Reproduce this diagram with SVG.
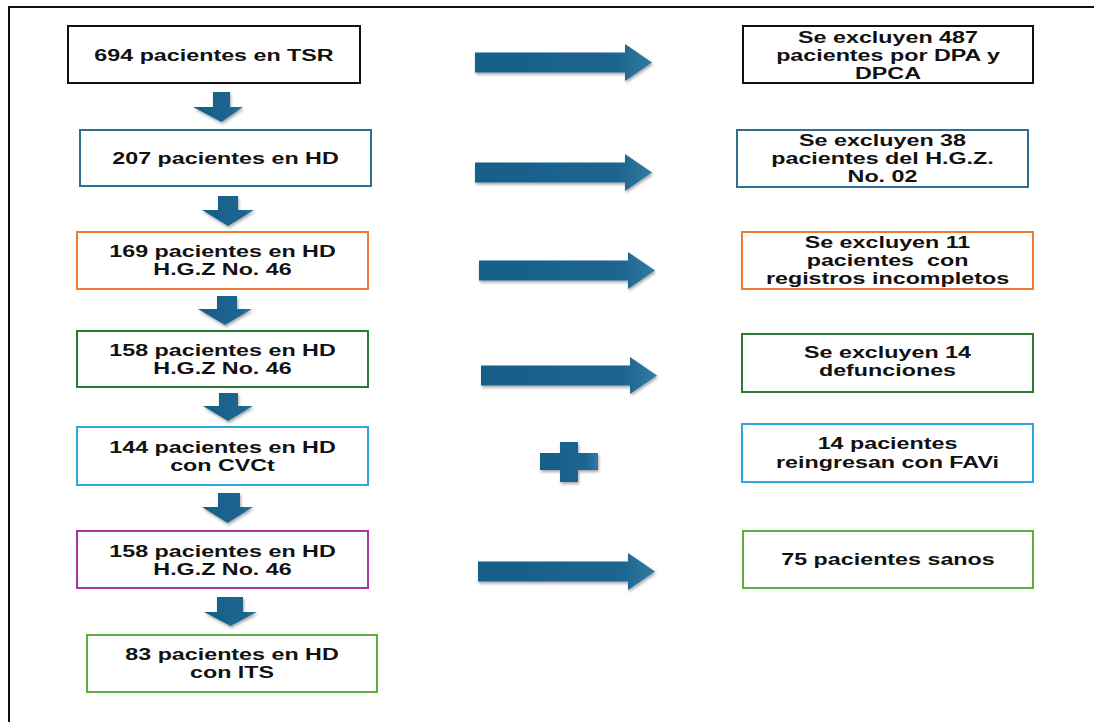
<svg xmlns="http://www.w3.org/2000/svg" width="1094" height="722" viewBox="0 0 1094 722">
<style>
.box{fill:#fff;stroke-width:2}
.t{font-family:"Liberation Sans",Arial,sans-serif;font-weight:bold;font-size:17px;fill:#111;text-anchor:middle}
.arr{fill:url(#ag);filter:url(#sh)}
</style>
<defs>
<linearGradient id="ag" x1="0" y1="0" x2="1" y2="0">
<stop offset="0" stop-color="#185f88"/>
<stop offset="0.8" stop-color="#1b6590"/>
<stop offset="1" stop-color="#347aa0"/>
</linearGradient>
<filter id="sh" x="-20%" y="-30%" width="140%" height="170%">
<feDropShadow dx="1" dy="2" stdDeviation="1.5" flood-color="#000" flood-opacity="0.35"/>
</filter>
</defs>
<rect width="1094" height="722" fill="#fff"/>
<path d="M9 722 V7 H1094" fill="none" stroke="#111" stroke-width="2"/>

<g id="n1"><rect class="box" x="68" y="26" width="292" height="57" stroke="#111"/>
<text class="t" transform="translate(214,61) scale(1.37,1)">694 pacientes en TSR</text></g>
<g id="n2"><rect class="box" x="80" y="130" width="291" height="56" stroke="#2f6d92"/>
<text class="t" transform="translate(225.5,164) scale(1.37,1)">207 pacientes en HD</text></g>
<g id="n3"><rect class="box" x="77" y="232" width="291" height="57" stroke="#ed7d31"/>
<text class="t" transform="translate(222.5,257) scale(1.37,1)"><tspan x="0" y="0">169 pacientes en HD</tspan><tspan x="0" y="18">H.G.Z No. 46</tspan></text></g>
<g id="n4"><rect class="box" x="77" y="331" width="291" height="56" stroke="#2e7a32"/>
<text class="t" transform="translate(222.5,356) scale(1.37,1)"><tspan x="0" y="0">158 pacientes en HD</tspan><tspan x="0" y="18">H.G.Z No. 46</tspan></text></g>
<g id="n5"><rect class="box" x="77" y="427" width="291" height="58" stroke="#2ea7dc"/>
<text class="t" transform="translate(222.5,453) scale(1.37,1)"><tspan x="0" y="0">144 pacientes en HD</tspan><tspan x="0" y="18">con CVCt</tspan></text></g>
<g id="n6"><rect class="box" x="77" y="531" width="291" height="57" stroke="#a8379f"/>
<text class="t" transform="translate(222.5,557) scale(1.37,1)"><tspan x="0" y="0">158 pacientes en HD</tspan><tspan x="0" y="18">H.G.Z No. 46</tspan></text></g>
<g id="n7"><rect class="box" x="87" y="635" width="290" height="57" stroke="#5bae3f"/>
<text class="t" transform="translate(232,660) scale(1.37,1)"><tspan x="0" y="0">83 pacientes en HD</tspan><tspan x="0" y="18">con ITS</tspan></text></g>

<g id="r1"><rect class="box" x="743" y="26" width="290" height="57" stroke="#111"/>
<text class="t" transform="translate(888,43) scale(1.37,1)"><tspan x="0" y="0">Se excluyen 487</tspan><tspan x="0" y="18">pacientes por DPA y</tspan><tspan x="0" y="36">DPCA</tspan></text></g>
<g id="r2"><rect class="box" x="737" y="130" width="291" height="57" stroke="#2f6d92"/>
<text class="t" transform="translate(882.5,146) scale(1.37,1)"><tspan x="0" y="0">Se excluyen 38</tspan><tspan x="0" y="18">pacientes del H.G.Z.</tspan><tspan x="0" y="36">No. 02</tspan></text></g>
<g id="r3"><rect class="box" x="742" y="232" width="291" height="57" stroke="#ed7d31"/>
<text class="t" transform="translate(887.5,248) scale(1.37,1)"><tspan x="0" y="0">Se excluyen 11</tspan><tspan x="0" y="18" xml:space="preserve">pacientes  con</tspan><tspan x="0" y="36">registros incompletos</tspan></text></g>
<g id="r4"><rect class="box" x="742" y="334" width="291" height="58" stroke="#2e7a32"/>
<text class="t" transform="translate(887.5,358) scale(1.37,1)"><tspan x="0" y="0">Se excluyen 14</tspan><tspan x="0" y="18">defunciones</tspan></text></g>
<g id="r5"><rect class="box" x="742" y="424" width="291" height="58" stroke="#2ea7dc"/>
<text class="t" transform="translate(887.5,449) scale(1.37,1)"><tspan x="0" y="0">14 pacientes</tspan><tspan x="0" y="19">reingresan con FAVi</tspan></text></g>
<g id="r6"><rect class="box" x="743" y="531" width="290" height="57" stroke="#5bae3f"/>
<text class="t" transform="translate(888,565) scale(1.37,1)">75 pacientes sanos</text></g>

<g id="connectors">
<path class="arr" d="M213 92 H230 V107 H243 L221.5 122 L193 107 H213 Z"/>
<path class="arr" d="M218 196 H238 V210 H254 L228 226 L202 210 H218 Z"/>
<path class="arr" d="M217 296 H237 V309 H252 L225 325 L198 309 H217 Z"/>
<path class="arr" d="M219 393 H238 V406 H253 L228 421 L203 406 H219 Z"/>
<path class="arr" d="M218 493 H240 V507 H253 L227.5 523 L202 507 H218 Z"/>
<path class="arr" d="M217 597 H243 V612 H257 L230.5 626 L204 612 H217 Z"/>

<path class="arr" d="M475 52.5 H625 V44 L652 62.5 L625 81 V72.5 H475 Z"/>
<path class="arr" d="M475 162.5 H625 V154 L652 172.5 L625 191 V182.5 H475 Z"/>
<path class="arr" d="M479 260.5 H628 V252 L655 270.5 L628 289 V280.5 H479 Z"/>
<path class="arr" d="M481 365.5 H630 V357 L657 375.5 L630 394 V385.5 H481 Z"/>
<path class="arr" d="M478 561.5 H628 V553 L655 571.5 L628 590 V581.5 H478 Z"/>
<path class="arr" d="M560 442 H578 V453 H598 V470 H578 V482 H560 V470 H540 V453 H560 Z"/>
</g>
</svg>
